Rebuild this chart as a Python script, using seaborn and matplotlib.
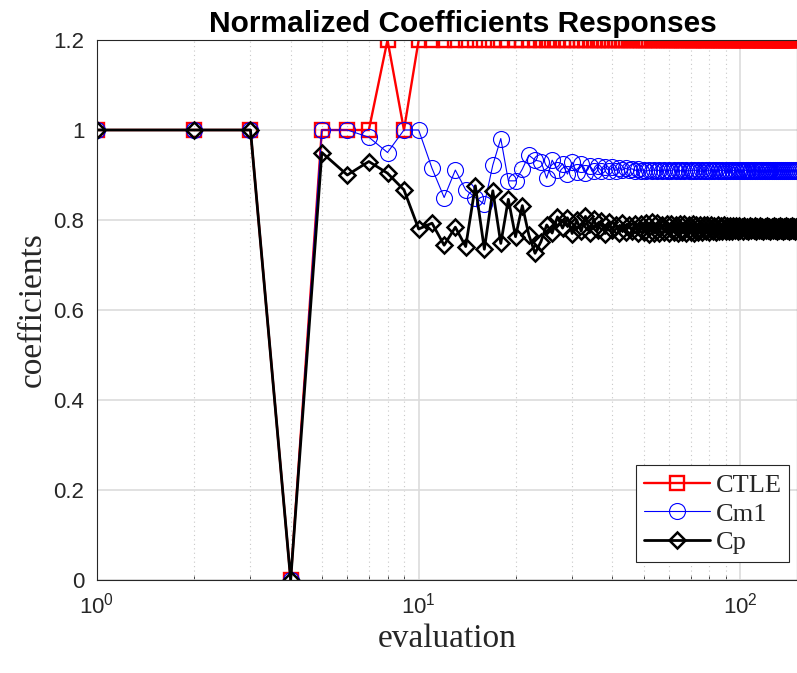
import numpy as np
import pandas as pd
import seaborn as sns
import matplotlib.pyplot as plt
from matplotlib.ticker import LogLocator, FuncFormatter, NullFormatter

# Data (evaluation index 1..150)
evaluation = list(range(1, 151))

ctle_head = [1.0, 1.0, 1.0, 0.0, 1.0, 1.0, 1.0, 1.2, 1.0, 1.2]
ctle_tail = [1.2] * 140  # flat at 1.2 from evaluation 11 onward
ctle = ctle_head + ctle_tail

cm1 = [
    1.0, 1.0, 1.0, 0.0, 1.0, 1.0, 0.984, 0.950, 1.0, 1.0,
    0.915, 0.850, 0.911, 0.867, 0.850, 0.835, 0.922, 0.981, 0.887, 0.887,
    0.913, 0.944, 0.933, 0.930, 0.893, 0.933, 0.911, 0.925, 0.902, 0.928,
    0.906, 0.924, 0.905, 0.921, 0.908, 0.919, 0.909, 0.918, 0.910, 0.917,
    0.910, 0.916, 0.911, 0.915, 0.911, 0.914, 0.910, 0.913, 0.909, 0.912,
    0.908, 0.911, 0.908, 0.912, 0.909, 0.911, 0.908, 0.911, 0.909, 0.911,
    0.909, 0.912, 0.908, 0.911, 0.909, 0.912, 0.909, 0.911, 0.908, 0.911,
    0.909, 0.912, 0.909, 0.911, 0.908, 0.911, 0.910, 0.912, 0.909, 0.911,
    0.909, 0.912, 0.910, 0.911, 0.909, 0.911, 0.910, 0.912, 0.909, 0.911,
    0.910, 0.912, 0.909, 0.911, 0.910, 0.911, 0.909, 0.911, 0.910, 0.912,
    0.910, 0.911, 0.909, 0.911, 0.910, 0.912, 0.910, 0.911, 0.909, 0.911,
    0.910, 0.911, 0.910, 0.912, 0.910, 0.911, 0.909, 0.911, 0.910, 0.911,
    0.910, 0.912, 0.910, 0.911, 0.910, 0.911, 0.909, 0.911, 0.910, 0.911,
    0.910, 0.911, 0.910, 0.912, 0.910, 0.911, 0.910, 0.911, 0.909, 0.911,
    0.910, 0.911, 0.910, 0.911, 0.910, 0.912, 0.910, 0.911, 0.910, 0.911,
]

cp = [
    1.0, 1.0, 1.0, 0.0, 0.950, 0.900, 0.930, 0.904, 0.867, 0.780,
    0.793, 0.744, 0.784, 0.741, 0.876, 0.735, 0.865, 0.748, 0.846, 0.763,
    0.832, 0.767, 0.726, 0.752, 0.789, 0.771, 0.807, 0.782, 0.805, 0.770,
    0.800, 0.775, 0.808, 0.772, 0.802, 0.778, 0.797, 0.770, 0.795, 0.778,
    0.790, 0.772, 0.793, 0.774, 0.790, 0.776, 0.792, 0.771, 0.791, 0.773,
    0.794, 0.770, 0.795, 0.771, 0.793, 0.772, 0.790, 0.773, 0.791, 0.771,
    0.792, 0.774, 0.790, 0.772, 0.791, 0.773, 0.792, 0.771, 0.790, 0.774,
    0.791, 0.772, 0.789, 0.774, 0.790, 0.773, 0.789, 0.775, 0.788, 0.774,
    0.789, 0.775, 0.787, 0.774, 0.788, 0.776, 0.787, 0.775, 0.788, 0.776,
    0.786, 0.775, 0.787, 0.776, 0.786, 0.777, 0.787, 0.776, 0.786, 0.777,
    0.785, 0.776, 0.786, 0.777, 0.785, 0.776, 0.786, 0.777, 0.785, 0.777,
    0.786, 0.776, 0.785, 0.777, 0.786, 0.777, 0.785, 0.776, 0.785, 0.777,
    0.786, 0.777, 0.785, 0.776, 0.785, 0.777, 0.786, 0.777, 0.785, 0.776,
    0.785, 0.777, 0.786, 0.777, 0.785, 0.776, 0.785, 0.777, 0.786, 0.777,
    0.785, 0.776, 0.785, 0.777, 0.786, 0.777, 0.785, 0.776, 0.785, 0.777,
]

series_names = ["CTLE", "Cm1", "Cp"]
y_ticks = [0, 0.2, 0.4, 0.6, 0.8, 1.0, 1.2]

sns.set_theme(style="white")
plt.rcParams["font.family"] = ["Liberation Sans", "DejaVu Sans"]
plt.rcParams["mathtext.fontset"] = "custom"
plt.rcParams["mathtext.rm"] = "Liberation Sans"
plt.rcParams["mathtext.it"] = "Liberation Sans:italic"

fig = plt.figure(figsize=(7.97, 6.73), dpi=100)
ax = fig.add_axes([97 / 797, 93 / 673, 700 / 797, 540 / 673])

df = pd.DataFrame({"evaluation": evaluation, "CTLE": ctle, "Cm1": cm1, "Cp": cp})

# one call per series, styled like the MATLAB original
styles = {
    "CTLE": dict(color="#ff0000", marker="s", markersize=9.5, linewidth=1.7, markeredgewidth=1.7),
    "Cm1": dict(color="#0000ff", marker="o", markersize=11.5, linewidth=0.8, markeredgewidth=0.8),
    "Cp": dict(color="#000000", marker="D", markersize=8, linewidth=2.0, markeredgewidth=1.8),
}
for name in series_names:
    st = styles[name]
    sns.lineplot(
        data=df, x="evaluation", y=name, ax=ax,
        estimator=None, sort=False, label=name,
        color=st["color"], marker=st["marker"], markersize=st["markersize"],
        linewidth=st["linewidth"], markeredgewidth=st["markeredgewidth"],
        markeredgecolor=st["color"], markerfacecolor="none",
    )

ax.set_xscale("log")
ax.set_xlim(1, 150)
ax.set_ylim(0, 1.2)
ax.set_yticks(y_ticks)
ax.yaxis.set_major_formatter(FuncFormatter(lambda v, p: f"{v:g}"))
ax.xaxis.set_major_locator(LogLocator(base=10))
ax.xaxis.set_minor_locator(LogLocator(base=10, subs=np.arange(2, 10)))
ax.xaxis.set_minor_formatter(NullFormatter())

ax.grid(True, which="major", color="#dcdcdc", linewidth=1.2, linestyle="-")
ax.grid(True, which="minor", axis="x", color="#c8c8c8", linewidth=0.8, linestyle=(0, (1, 3)))
ax.set_axisbelow(True)

for sp in ax.spines.values():
    sp.set_color("#262626")
    sp.set_linewidth(0.8)
ax.tick_params(axis="both", which="both", direction="in", colors="#262626",
               labelsize=16, top=False, right=False)
ax.tick_params(axis="both", which="major", length=5, width=0.8, pad=9)
ax.tick_params(axis="x", which="minor", length=3, width=0.6, bottom=True)

# title sits a little right of centre in the original (cropped figure)
ax.set_title("Normalized Coefficients Responses", fontsize=21.5, fontweight="bold",
             color="black", pad=6, x=0.523)
ax.set_xlabel("evaluation", family="Liberation Serif", fontsize=24, color="#262626", labelpad=4)
ax.set_ylabel("coefficients", family="Liberation Serif", fontsize=24, color="#262626", labelpad=4)

leg = ax.legend(loc="lower right", bbox_to_anchor=(0.989, 0.033),
                prop={"family": "Liberation Serif", "size": 19},
                frameon=True, fancybox=False, framealpha=1, edgecolor="#262626",
                handlelength=2.5, borderpad=0.3, labelspacing=0.2, handletextpad=0.2,
                borderaxespad=0)
leg.get_frame().set_linewidth(0.8)

fig.savefig("out.png", dpi=100)
